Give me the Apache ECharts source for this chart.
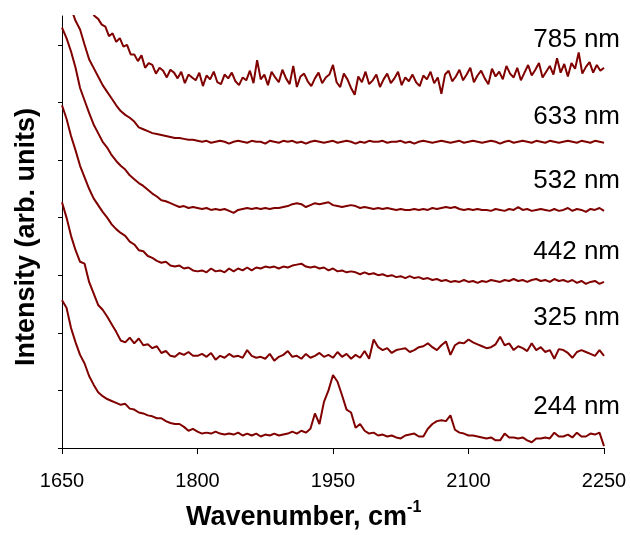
<!DOCTYPE html>
<html>
<head>
<meta charset="utf-8">
<script src="https://cdn.jsdelivr.net/npm/echarts@6/dist/echarts.min.js"></script>
<style>
  html, body { margin: 0; padding: 0; background: #fff; }
  #chart { width: 631px; height: 535px; }
</style>
</head>
<body>
<div id="chart"></div>
<script>
// Raman background spectra at six excitation wavelengths (stacked, arbitrary units)
const laserLines = ['785 nm', '633 nm', '532 nm', '442 nm', '325 nm', '244 nm'];
const xTicks = [1650, 1800, 1950, 2100, 2250];

// sampling of the recorded spectra, cm-1
const startWavenumber = 1650;
const stepCoarse = 5;   // 633, 532, 442, 325, 244 nm
const stepFine = 4;     // 785 nm

const int785 = [
  529, 519, 508, 498, 488, 477, 470, 462, 456, 450,
  447, 441, 439, 429, 432, 423, 427, 418, 420, 410,
  410, 403, 409, 396, 401, 399, 390, 396, 393, 386,
  394, 391, 385, 392, 380, 389, 386, 383, 391, 377,
  388, 384, 392, 381, 379, 389, 385, 391, 382, 378,
  386, 383, 393, 380, 404, 384, 389, 378, 392, 386,
  381, 394, 385, 379, 398, 376, 387, 390, 382, 377,
  385, 391, 380, 386, 389, 399, 381, 376, 390, 384,
  375, 368, 387, 381, 392, 379, 383, 389, 376, 384,
  390, 380, 385, 392, 378, 386, 382, 389, 381, 377,
  388, 384, 392, 380, 386, 369, 389, 393, 382, 387,
  394, 383, 389, 396, 381, 388, 393, 385, 379, 395,
  387, 392, 384, 398, 390, 386, 396, 383, 391, 399,
  388, 394, 401, 386, 392, 398, 389, 406, 391, 400,
  387, 401, 395, 412, 390, 397, 402, 391, 399, 393,
  396
];

const int633 = [
  493, 475, 458, 445, 436, 420, 405, 396, 387, 378,
  371, 364, 357, 351, 347, 344, 340, 334, 332, 330,
  328, 327, 326, 325, 324, 323, 323, 322, 321, 321,
  320, 319, 320, 318, 319, 320, 319, 317, 319, 320,
  319, 318, 320, 319, 319, 317, 320, 319, 318, 320,
  319, 320, 318, 319, 317, 319, 320, 319, 318, 319,
  320, 318, 319, 320, 319, 317, 319, 318, 320, 319,
  319, 320, 318, 319, 319, 320, 318, 319, 317, 319,
  320, 319, 318, 319, 320, 319, 318, 319, 320, 318,
  319, 320, 319, 318, 319, 320, 319, 317, 319, 320,
  318, 319, 320, 319, 318, 320, 319, 318, 320, 319,
  318, 319, 320, 319, 318, 320, 319, 318, 320, 319,
  318
];

const int532 = [
  438, 427, 413, 396, 375, 362, 349, 337, 328, 319,
  313, 305, 299, 294, 290, 284, 280, 276, 273, 269,
  265, 262, 258, 257, 255, 253, 251, 252, 250, 251,
  250, 249, 250, 248, 249, 248, 249, 247, 245, 248,
  249, 250, 249, 250, 249, 250, 249, 250, 250, 251,
  252, 254, 255, 254, 251, 253, 255, 254, 255, 256,
  253, 252, 251, 252, 253, 252, 250, 251, 250, 249,
  250, 249, 250, 249, 248, 249, 248, 248, 249, 248,
  249, 248, 250, 249, 250, 251, 250, 251, 249, 248,
  249, 248, 249, 248, 248, 247, 249, 248, 247, 249,
  248, 251, 248, 249, 247, 248, 249, 248, 247, 249,
  247, 248, 250, 247, 249, 248, 246, 249, 248, 250,
  247
];

const int442 = [
  357, 343, 325, 310, 294, 282, 270, 260, 253, 246,
  240, 233, 228, 224, 221, 215, 212, 206, 205, 200,
  198, 195, 193, 194, 190, 189, 190, 187, 188, 185,
  184, 185, 183, 187, 184, 185, 183, 187, 184, 187,
  185, 188, 185, 188, 187, 189, 188, 189, 187, 189,
  188, 190, 191, 192, 189, 188, 189, 187, 188, 185,
  187, 184, 185, 183, 184, 183, 181, 183, 181, 182,
  180, 181, 179, 180, 178, 179, 177, 179, 177, 178,
  176, 177, 175, 176, 174, 175, 173, 174, 173, 175,
  173, 174, 172, 174, 173, 175, 174, 173, 175, 174,
  176, 174, 175, 173, 175, 176, 174, 175, 173, 176,
  174, 175, 173, 175, 172, 174, 171, 173, 174, 171,
  173
];

const int325 = [
  256, 240, 221, 206, 194, 192, 173, 161, 149, 144,
  137, 129, 121, 112, 110, 115, 109, 114, 107, 108,
  104, 106,  99, 101,  96,  95,  99,  97, 100,  96,
   96,  98,  95,  99,  92,  96,  94,  98,  95,  96,
   94, 102,  96,  94,  95,  93,  98,  91,  95,  97,
  101,  95,  96,  93,  98,  94,  96,  99,  95,  97,
   94, 100,  95,  98,  93,  97,  94, 101,  93, 113,
  105, 102, 104,  99, 102, 103, 104, 100, 102, 105,
  106, 109, 105, 102, 107, 111,  97, 107, 110, 109,
  113, 110, 108, 106, 104, 105, 108, 116, 107, 109,
  102, 106, 104, 101, 109, 102, 105, 100, 102,  93,
  103, 102,  99,  94, 100, 102, 100,  98,  96, 102,
   96
];

const int244 = [
  154, 146, 125, 110,  97,  88,  75,  66,  58,  54,
   51,  49,  47,  45,  46,  41,  40,  37,  36,  34,
   33,  31,  31,  28,  26,  25,  25,  22,  18,  20,
   17,  15,  16,  15,  17,  15,  14,  15,  14,  16,
   13,  15,  13,  15,  12,  14,  13,  15,  13,  14,
   15,  17,  15,  18,  16,  20,  36,  25,  48,  60,
   76,  69,  55,  40,  37,  21,  25,  18,  15,  16,
   13,  14,  12,  13,  11,  10,  13,  14,  15,  12,
   12,  20,  25,  28,  29,  28,  34,  19,  16,  15,
   13,  13,  12,  11,  10,  11,   8,   8,  15,  11,
   11,  10,  11,   8,   6,  10,  10,  11,  10,  16,
   12,  12,  14,  11,  16,  12,  12,  15,  14,  16,
    2
];

const spectra = [
  { name: laserLines[0], step: stepFine, values: int785 },
  { name: laserLines[1], step: stepCoarse, values: int633 },
  { name: laserLines[2], step: stepCoarse, values: int532 },
  { name: laserLines[3], step: stepCoarse, values: int442 },
  { name: laserLines[4], step: stepCoarse, values: int325 },
  { name: laserLines[5], step: stepCoarse, values: int244 }
];

const FONT = "'Liberation Sans', Arial, Helvetica, sans-serif";
const TRACE = '#800000';

const chart = echarts.init(document.getElementById('chart'), null, { renderer: 'canvas' });

chart.setOption({
  animation: false,
  backgroundColor: '#ffffff',
  grid: { left: 62, right: 27, top: 16, bottom: 87, containLabel: false },
  xAxis: {
    type: 'value',
    min: xTicks[0],
    max: xTicks[xTicks.length - 1],
    interval: xTicks[1] - xTicks[0],
    axisLine: { show: true, onZero: false, lineStyle: { color: '#000', width: 1 } },
    axisTick: { show: true, length: 6, lineStyle: { color: '#000', width: 1 } },
    axisLabel: { fontSize: 20, color: '#000', fontFamily: FONT, margin: 23,
                 formatter: v => String(v) },
    splitLine: { show: false }
  },
  yAxis: {
    type: 'value',
    min: 0,
    max: 450,
    axisLine: { show: true, lineStyle: { color: '#000', width: 1 } },
    axisTick: { show: true, length: 4, lineStyle: { color: '#000', width: 1 },
                customValues: [0, 60, 120, 180, 240, 300, 360, 420] },
    axisLabel: { show: false },
    splitLine: { show: false }
  },
  series: spectra.map(s => ({
    type: 'line',
    name: s.name,
    symbol: 'none',
    clip: true,
    lineStyle: { color: TRACE, width: 2 },
    data: s.values.map((v, i) => [startWavenumber + s.step * i, v])
  }))
});

// wavelength tags sit just right of the plot, level with each trace's baseline
const tagLevels = [425, 345, 278, 204, 136, 43];
const tags = laserLines.map((txt, i) => {
  const p = chart.convertToPixel({ gridIndex: 0 }, [xTicks[xTicks.length - 1], tagLevels[i]]);
  return {
    type: 'text',
    x: p[0] + 16,
    y: p[1],
    style: {
      text: txt, fill: '#000', font: '26px ' + FONT,
      align: 'right', verticalAlign: 'middle'
    }
  };
});

chart.setOption({
  graphic: tags.concat([
    {
      type: 'text',
      x: 186,
      y: 500,
      style: {
        text: '{t|Wavenumber, cm}{s|-1}',
        fill: '#000',
        align: 'left',
        verticalAlign: 'top',
        rich: {
          t: { fontSize: 27, fontWeight: 'bold', fontFamily: FONT, lineHeight: 36, fill: '#000' },
          s: { fontSize: 16, fontWeight: 'bold', fontFamily: FONT, lineHeight: 16, verticalAlign: 'top', fill: '#000' }
        }
      }
    },
    {
      type: 'text',
      x: 27,
      y: 237,
      rotation: Math.PI / 2,
      style: {
        text: 'Intensity (arb. units)',
        fill: '#000',
        font: 'bold 27px ' + FONT,
        align: 'center',
        verticalAlign: 'middle'
      }
    }
  ])
});
</script>
</body>
</html>
